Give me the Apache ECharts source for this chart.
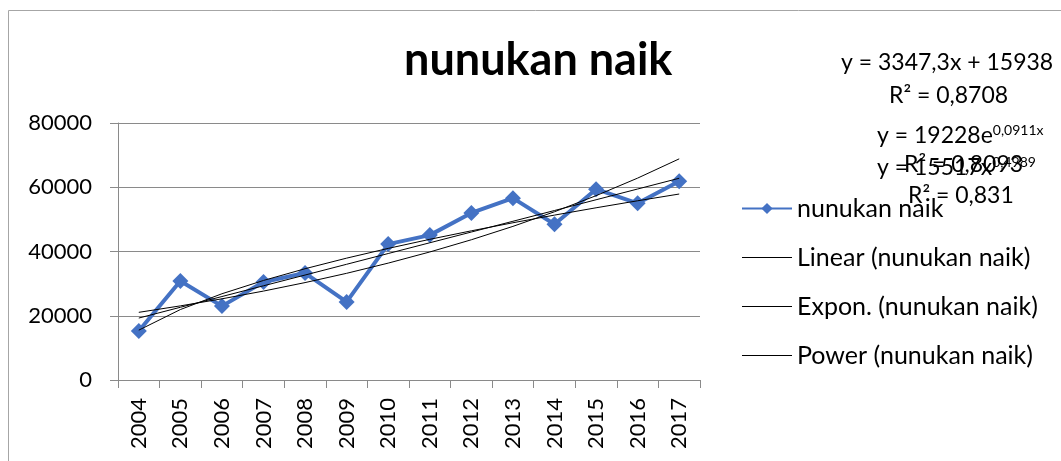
<!DOCTYPE HTML>
<html>
<head>
<meta charset="utf-8">
<title>nunukan naik</title>
<script src="https://cdn.jsdelivr.net/npm/echarts@6/dist/echarts.min.js"></script>
<style type="text/css">
  html, body { margin: 0; padding: 0; background: #fff; }
  #content { width: 1061px; height: 461px; }
</style>
</head>
<body>
<div id="content"></div>
<script type="text/javascript">
  // data
  var years = ['2004', '2005', '2006', '2007', '2008', '2009', '2010',
               '2011', '2012', '2013', '2014', '2015', '2016', '2017'];
  var naik = [15250, 30800, 23000, 30500, 33300, 24300, 42300,
              45100, 52000, 56600, 48500, 59400, 55000, 61900];
  // trend lines (values at each year, as drawn)
  var linearTrend = [19285, 22633, 25980, 29327, 32675, 36022, 39369,
                     42716, 46064, 49411, 52758, 56106, 59453, 62800];
  var exponTrend = [21062, 23071, 25271, 27682, 30322, 33214, 36382,
                    39852, 43653, 47817, 52378, 57374, 62846, 68840];
  var powerTrend = [15517, 21928, 26844, 30987, 34636, 37934, 40966,
                    43789, 46438, 48945, 51329, 53606, 55790, 57891];
  var yTicks = [0, 20000, 40000, 60000, 80000];

  var FONT = 'Lato';
  var axisGray = '#8a8a8a';

  var myChart = echarts.init(document.getElementById('content'));

  function trend(name, data) {
    return {
      name: name, type: 'line', data: data, symbol: 'none', smooth: false,
      lineStyle: { color: '#000', width: 1 }, itemStyle: { color: '#000' },
      z: 3, silent: true
    };
  }

  // legend entry for a trend line: thin line only, no dot
  function trendLegend(name) {
    return { name: name, itemStyle: { opacity: 0 }, lineStyle: { width: 1 } };
  }

  function eqText(x, y, parts) {
    return {
      type: 'text', left: x, top: y, z: 100,
      style: {
        text: parts, fill: '#000', font: '23px ' + FONT,
        rich: { sup: { fontSize: 14, fontFamily: FONT, verticalAlign: 'top', padding: [0, 0, 12, 0] },
                n: { fontSize: 23, fontFamily: FONT } }
      }
    };
  }

  var option = {
    animation: false,
    title: {
      text: 'nunukan naik', left: 399, top: 33,
      textStyle: { fontFamily: FONT, fontWeight: 'bold', fontSize: 45, color: '#000' }
    },
    grid: { left: 118, right: 361, top: 123, bottom: 81, containLabel: false },
    legend: {
      orient: 'vertical', left: 736, top: 191, itemGap: 24, itemWidth: 50, itemHeight: 14,
      textStyle: { fontFamily: FONT, fontSize: 25, color: '#000' },
      data: [
        'nunukan naik',
        trendLegend('Linear (nunukan naik)'),
        trendLegend('Expon. (nunukan naik)'),
        trendLegend('Power (nunukan naik)')
      ]
    },
    xAxis: {
      type: 'category', data: years, boundaryGap: true,
      axisLine: { lineStyle: { color: axisGray } },
      axisTick: { show: true, length: 8, lineStyle: { color: axisGray } },
      axisLabel: { rotate: 90, margin: 18, fontFamily: FONT, fontSize: 22, color: '#000' }
    },
    yAxis: {
      type: 'value', min: yTicks[0], max: yTicks[yTicks.length - 1], interval: 20000,
      axisLine: { show: true, lineStyle: { color: axisGray } },
      axisTick: { show: true, length: 8, lineStyle: { color: axisGray } },
      splitLine: { lineStyle: { color: axisGray } },
      axisLabel: {
        margin: 26, fontFamily: FONT, fontSize: 22, color: '#000',
        formatter: function (v) { return String(v); }
      }
    },
    series: [
      {
        name: 'nunukan naik', type: 'line', data: naik,
        symbol: 'diamond', symbolSize: 16, z: 2,
        lineStyle: { color: '#4472C4', width: 4 },
        itemStyle: { color: '#4472C4' }
      },
      trend('Linear (nunukan naik)', linearTrend),
      trend('Expon. (nunukan naik)', exponTrend),
      trend('Power (nunukan naik)', powerTrend)
    ],
    graphic: [
      {
        type: 'rect', z: -1, silent: true,
        shape: { x: 8.5, y: 10.5, width: 1200, height: 600 },
        style: { fill: 'none', stroke: '#a6a6a6', lineWidth: 1 }
      },
      eqText(841, 51, '{n|y = 3347,3x + 15938}'),
      eqText(889, 84, '{n|R² = 0,8708}'),
      eqText(877, 123, '{n|y = 19228e}{sup|0,0911x}'),
      eqText(877, 155, '{n|y = 15517x}{sup|0,4989}'),
      eqText(904, 153, '{n|R² = 0,8093}'),
      eqText(908, 184, '{n|R² = 0,831}')
    ]
  };

  myChart.setOption(option);
</script>
</body>
</html>
